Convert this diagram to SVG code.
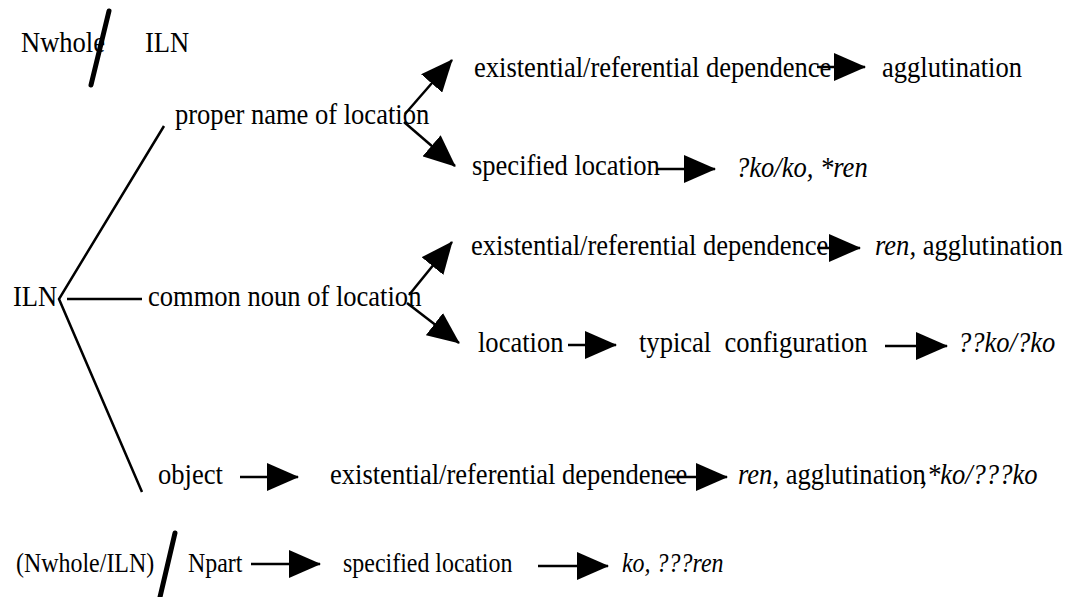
<svg xmlns="http://www.w3.org/2000/svg" width="1072" height="597" viewBox="0 0 1072 597">
<style>
text{font-family:"Liberation Serif","Times New Roman",serif;font-size:29.5px;fill:#000}
.sm{font-size:26.6px}
.it{font-style:italic}
.ln{stroke:#000;stroke-width:2.5;fill:none}
.ar{stroke:#000;stroke-width:2.5;fill:none;marker-end:url(#ah)}
.sl{stroke:#000;stroke-width:5;stroke-linecap:round}
</style>
<defs>
<marker id="ah" markerUnits="userSpaceOnUse" markerWidth="32" markerHeight="28" viewBox="0 0 32 28" refX="31" refY="14" orient="auto">
<path d="M0,0 L32,14 L0,28 Z" fill="#000"/>
</marker>
</defs>
<rect width="1072" height="597" fill="#fff"/>
<g id="header">
<text transform="translate(21 52) scale(0.9 1)">Nwhole</text>
<text transform="translate(145 52) scale(0.9 1)">ILN</text>
<line class="sl" x1="109" y1="11" x2="91" y2="85"/>
</g>
<g id="n-iln"><text transform="translate(13 306) scale(0.9 1)">ILN</text></g>
<g id="n-proper"><text transform="translate(175 124) scale(0.9 1)">proper name of location</text></g>
<g id="n-common"><text transform="translate(148 306) scale(0.9 1)">common noun of location</text></g>
<g id="n-object"><text transform="translate(158 484) scale(0.9 1)">object</text></g>
<g id="n-r1-dep"><text transform="translate(474 77) scale(0.9 1)">existential/referential dependence</text></g>
<g id="n-r1-res"><text transform="translate(882 77) scale(0.9 1)">agglutination</text></g>
<g id="n-r2-spec"><text transform="translate(472 175) scale(0.9 1)">specified location</text></g>
<g id="n-r2-res"><text class="it" transform="translate(736 177) scale(0.9 1)">?ko/ko, *ren</text></g>
<g id="n-r3-dep"><text transform="translate(471 255) scale(0.9 1)">existential/referential dependence</text></g>
<g id="n-r3-res"><text transform="translate(875 255) scale(0.9 1)"><tspan class="it">ren,</tspan> agglutination</text></g>
<g id="n-r4-loc"><text transform="translate(478 352) scale(0.9 1)">location</text></g>
<g id="n-r4-typ"><text transform="translate(639 352) scale(0.9 1)" xml:space="preserve">typical  configuration</text></g>
<g id="n-r4-res"><text class="it" transform="translate(958 352) scale(0.9 1)">??ko/?ko</text></g>
<g id="n-r5-dep"><text transform="translate(330 484) scale(0.9 1)">existential/referential dependence</text></g>
<g id="n-r5-res"><text transform="translate(738 484) scale(0.9 1)"><tspan class="it">ren</tspan>, agglutination<tspan dx="-6">,</tspan><tspan class="it">*ko/???ko</tspan></text></g>
<g id="n-bottom">
<text class="sm" transform="translate(16 572) scale(0.9 1)">(Nwhole/ILN)</text>
<line class="sl" x1="175" y1="533" x2="160" y2="597"/>
<text class="sm" transform="translate(188 572) scale(0.9 1)">Npart</text>
</g>
<g id="n-b-spec"><text class="sm" transform="translate(343 572) scale(0.9 1)">specified location</text></g>
<g id="n-b-res"><text class="sm it" transform="translate(622 572) scale(0.9 1)">ko, ???ren</text></g>
<g id="connectors">
<polyline class="ln" points="164,126 59,299 142,492"/>
<line class="ln" x1="67" y1="299" x2="142" y2="299"/>
<line class="ar" x1="405" y1="114" x2="452" y2="60"/>
<line class="ar" x1="404" y1="122" x2="455" y2="166"/>
<line class="ar" x1="409" y1="295" x2="452" y2="242"/>
<line class="ar" x1="407" y1="303" x2="459" y2="343"/>
<line class="ar" x1="817" y1="67" x2="865" y2="67"/>
<line class="ar" x1="656" y1="169" x2="715" y2="169"/>
<line class="ar" x1="817" y1="248" x2="860" y2="248"/>
<line class="ar" x1="568" y1="345" x2="616" y2="345"/>
<line class="ar" x1="885" y1="346" x2="947" y2="346"/>
<line class="ar" x1="240" y1="477" x2="298" y2="477"/>
<line class="ar" x1="668" y1="477" x2="727" y2="477"/>
<line class="ar" x1="251" y1="564" x2="320" y2="564"/>
<line class="ar" x1="538" y1="566" x2="608" y2="566"/>
</g>
</svg>
